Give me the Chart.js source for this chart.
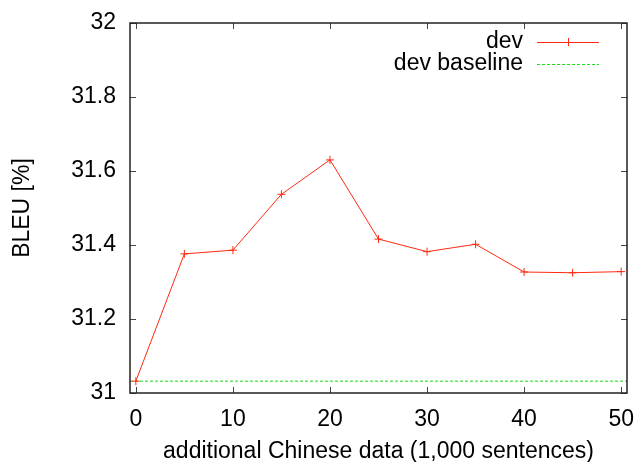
<!DOCTYPE html>
<html>
<head>
<meta charset="utf-8">
<script src="https://cdn.jsdelivr.net/npm/chart.js@4/dist/chart.umd.min.js"></script>
<style>
html,body{margin:0;padding:0;background:#fff;}
#wrap{width:639px;height:462px;}
</style>
</head>
<body>
<div id="wrap"><canvas id="c" width="639" height="462"></canvas></div>
<script>
const xValues = [0, 5, 10, 15, 20, 25, 30, 35, 40, 45, 50];
const devValues = [31.032, 31.376, 31.386, 31.537, 31.630, 31.416, 31.382, 31.402, 31.327, 31.325, 31.328];
const baselineValue = 31.032;
const xTicks = [0, 10, 20, 30, 40, 50];
const yTicks = [31, 31.2, 31.4, 31.6, 31.8, 32];
const xMin = -0.6, xMax = 50.6;
const seriesNames = ['dev', 'dev baseline'];

const RED = '#ff2a10';
const GREEN = '#18dd18';
const FONT = 'Liberation Sans, Arial, Helvetica, sans-serif';
const FS = 23;

const frame = {
  id: 'frame',
  afterDraw(chart) {
    const {ctx, chartArea: a, scales} = chart;
    ctx.save();
    ctx.strokeStyle = '#444';
    ctx.lineWidth = 1;
    const tl = 6;
    ctx.beginPath();
    xTicks.forEach(v => {
      const x = Math.round(scales.x.getPixelForValue(v)) + 0.5;
      ctx.moveTo(x, a.bottom); ctx.lineTo(x, a.bottom - tl);
      ctx.moveTo(x, a.top); ctx.lineTo(x, a.top + tl);
    });
    yTicks.forEach(v => {
      const y = Math.round(scales.y.getPixelForValue(v)) + 0.5;
      ctx.moveTo(a.left, y); ctx.lineTo(a.left + tl, y);
      ctx.moveTo(a.right, y); ctx.lineTo(a.right - tl, y);
    });
    ctx.stroke();
    ctx.strokeStyle = '#222';
    ctx.lineWidth = 1.5;
    ctx.strokeRect(a.left, a.top, a.right - a.left, a.bottom - a.top);
    // legend
    ctx.font = FS + 'px ' + FONT;
    ctx.fillStyle = '#000';
    ctx.textAlign = 'right';
    ctx.textBaseline = 'middle';
    const tx = 523, lx1 = 537, lx2 = 599;
    const rows = [42, 64];
    ctx.fillText(seriesNames[0], tx, rows[0]);
    ctx.fillText(seriesNames[1], tx, rows[1]);
    ctx.lineWidth = 1;
    ctx.strokeStyle = RED;
    ctx.beginPath(); ctx.moveTo(lx1, rows[0] + 0.5); ctx.lineTo(lx2, rows[0] + 0.5); ctx.stroke();
    const mx = (lx1 + lx2) / 2;
    ctx.beginPath(); ctx.moveTo(mx - 4, rows[0] + 0.5); ctx.lineTo(mx + 4, rows[0] + 0.5);
    ctx.moveTo(mx + 0.5, rows[0] - 4); ctx.lineTo(mx + 0.5, rows[0] + 4); ctx.stroke();
    ctx.strokeStyle = GREEN;
    ctx.setLineDash([3, 2]);
    ctx.beginPath(); ctx.moveTo(lx1, rows[1] + 0.5); ctx.lineTo(lx2, rows[1] + 0.5); ctx.stroke();
    ctx.restore();
  }
};

function zeroPad(s) { s.paddingLeft = 0; s.paddingRight = 0; s.paddingTop = 0; s.paddingBottom = 0; }

new Chart(document.getElementById('c'), {
  type: 'scatter',
  data: {
    datasets: [
      {
        label: seriesNames[1],
        data: [{x: xMin, y: baselineValue}, {x: xMax, y: baselineValue}],
        showLine: true,
        borderColor: GREEN,
        borderWidth: 1,
        borderDash: [3, 2],
        pointRadius: 0,
        order: 2
      },
      {
        label: seriesNames[0],
        data: xValues.map((x, i) => ({x: x, y: devValues[i]})),
        showLine: true,
        borderColor: RED,
        borderWidth: 1,
        pointStyle: 'cross',
        pointRadius: 4,
        pointBorderColor: RED,
        pointBorderWidth: 1,
        order: 1
      }
    ]
  },
  options: {
    responsive: false,
    animation: false,
    events: [],
    layout: {padding: {top: 23, right: 12, left: 0, bottom: 0}},
    plugins: {legend: {display: false}, tooltip: {enabled: false}},
    scales: {
      x: {
        type: 'linear',
        min: xMin, max: xMax,
        afterBuildTicks: s => { s.ticks = xTicks.map(v => ({value: v})); },
        afterFit: s => { s.height = 69; zeroPad(s); },
        grid: {display: false, drawTicks: false},
        border: {display: false},
        ticks: {color: '#000', font: {family: FONT, size: FS}, padding: 13, maxRotation: 0},
        title: {display: true, text: 'additional Chinese data (1,000 sentences)', color: '#000',
                font: {family: FONT, size: FS}, padding: {top: 0, bottom: -3}}
      },
      y: {
        min: 31, max: 32,
        afterBuildTicks: s => { s.ticks = yTicks.map(v => ({value: v})); },
        afterFit: s => { s.width = 130; zeroPad(s); },
        grid: {display: false, drawTicks: false},
        border: {display: false},
        ticks: {color: '#000', font: {family: FONT, size: FS}, padding: 14,
                callback: v => String(v)},
        title: {display: true, text: 'BLEU [%]', color: '#000',
                font: {family: FONT, size: FS}, padding: {top: 9, bottom: 0}}
      }
    }
  },
  plugins: [frame]
});
</script>
</body>
</html>
